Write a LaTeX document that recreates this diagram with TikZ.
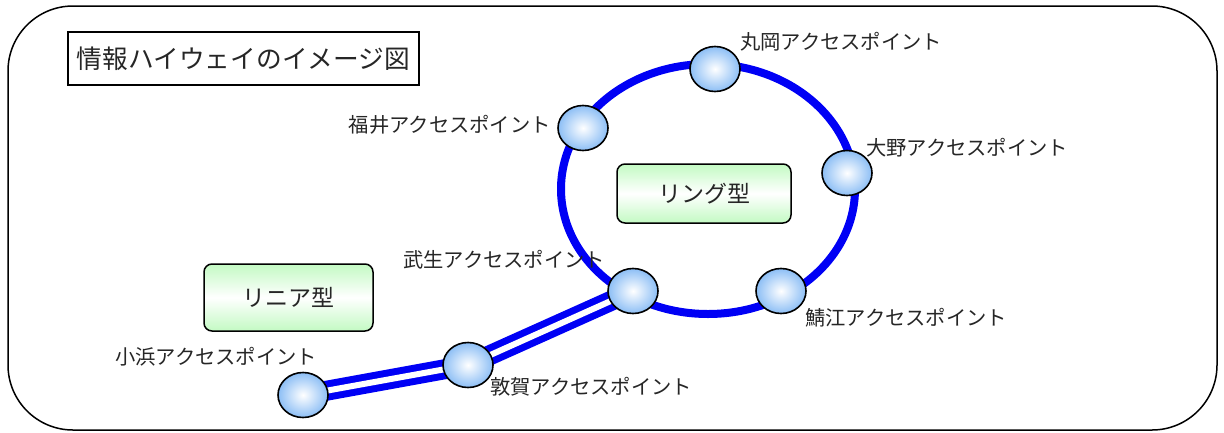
\documentclass[tikz,border=0pt]{standalone}
\usepackage{fontspec}
\newfontfamily\jp{Noto Sans CJK JP}
\usetikzlibrary{shapes.geometric,backgrounds}
\definecolor{apblue}{RGB}{140,190,245}
\definecolor{boxgreen}{RGB}{195,250,195}
\definecolor{railblue}{RGB}{0,0,245}
\begin{document}
\begin{tikzpicture}[x=1pt,y=-1pt,
  ap/.style={ellipse, draw=black, line width=1.6pt, minimum width=50pt, minimum height=45pt,
    inner sep=0pt, shading=radial, inner color=white, outer color=apblue},
  lbl/.style={font=\jp\fontsize{20.3}{21}\selectfont, text=black!85, inner sep=0pt, anchor=west},
  typebox/.style={draw=black, rounded corners=8pt, line width=1.5pt, minimum width=174pt,
    minimum height=59pt, top color=boxgreen, bottom color=boxgreen, middle color=white,
    font=\jp\fontsize{23}{24}\selectfont, text=black!85},
  ring/.style={draw=railblue, line width=8pt},
  rail/.style={draw=railblue, line width=7pt, double=white, double distance=6pt, line join=round}
]
\useasboundingbox (0,0) rectangle (1224,432);
\draw[line width=1.5pt, rounded corners=65pt] (8,6) rectangle (1217,430);

\node[draw=black, line width=1.3pt, minimum width=351pt, minimum height=53pt, inner sep=0pt,
  font=\jp\fontsize{25.7}{26}\selectfont, text=black!85] (title) at (243.5,58.5) {情報ハイウェイのイメージ図};

\node[typebox] (ringtype) at (704,193.5) {リング型};
\node[typebox, minimum width=169pt, minimum height=67pt] (lineartype) at (288.5,297.5) {リニア型};

\node[ap] (maruoka) at (715,69) {};
\node[ap] (fukui) at (583,128) {};
\node[ap] (ono) at (847,173) {};
\node[ap] (sabae) at (781,291) {};
\node[ap] (takefu) at (633,291) {};
\node[ap] (tsuruga) at (468,365) {};
\node[ap] (obama) at (303,395) {};

\node[lbl] (lmaruoka) at (740,42) {丸岡アクセスポイント};
\node[lbl, anchor=east] (lfukui) at (551,125) {福井アクセスポイント};
\node[lbl] (lono) at (866,148) {大野アクセスポイント};
\node[lbl] (lsabae) at (805,318) {鯖江アクセスポイント};
\node[lbl] (ltakefu) at (403,260) {武生アクセスポイント};
\node[lbl] (ltsuruga) at (490,387) {敦賀アクセスポイント};
\node[lbl] (lobama) at (115,357) {小浜アクセスポイント};

\begin{pgfonlayer}{background}
  \draw[ring] (708,189) ellipse [x radius=147, y radius=125];
  \draw[rail] (takefu.center) -- (tsuruga.center) -- (obama.center);
\end{pgfonlayer}
\end{tikzpicture}
\end{document}
